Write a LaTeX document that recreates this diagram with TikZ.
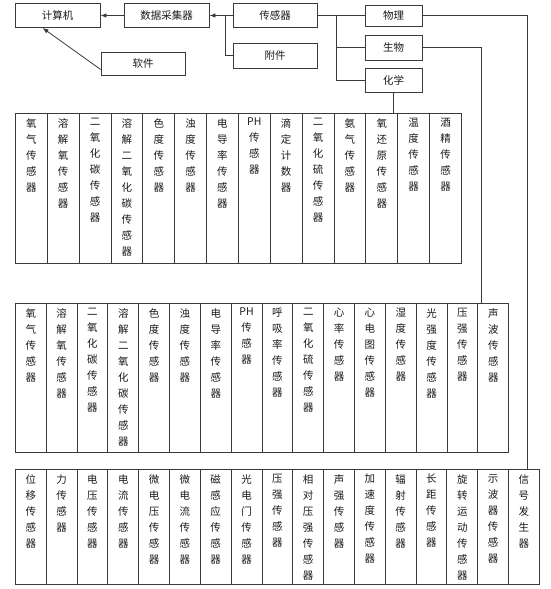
\documentclass[tikz,border=0pt]{standalone}
\usepackage{fontspec}
\setmainfont{Noto Sans CJK SC}
\usetikzlibrary{arrows.meta,calc}
\definecolor{ink}{HTML}{1A1A1A}
\definecolor{rule}{HTML}{3A3A3A}
\tikzset{
  box/.style={draw=rule,line width=0.8pt,minimum width=85pt,minimum height=24pt,inner sep=0pt,
    font=\fontsize{10.5}{12}\selectfont,text=ink},
  small box/.style={box,minimum width=57pt},
  link/.style={draw=rule,line width=0.8pt},
  feed/.style={link,-{Latex[length=6pt,width=4.5pt]}},
  cell/.style={draw=rule,line width=0.8pt,anchor=north west,inner sep=0pt},
  cell text/.style={anchor=north,align=center,inner xsep=0pt,inner ysep=5pt,text=ink,
    font=\fontsize{10.5}{16}\selectfont},
}

\begin{document}
\begin{tikzpicture}[x=1pt,y=-1pt]
  \useasboundingbox (0,0) rectangle (550,589);

  % Acquisition chain along the top.
  \node[box] (computer) at (57.5,15.5) {计算机};
  \node[box] (collector) at (166.5,15.5) {数据采集器};
  \node[box,minimum width=84pt] (sensor) at (275,15.5) {传感器};
  \node[box,minimum width=84pt,minimum height=25pt] (accessory) at (275,55.5) {附件};
  \node[box,minimum width=84pt,minimum height=23pt] (software) at (143,63.5) {软件};
  \node[small box,minimum height=21pt] (physics) at (393.5,15.5) {物理};
  \node[small box,minimum height=25pt] (biology) at (393.5,47.5) {生物};
  \node[small box] (chemistry) at (393.5,80) {化学};
  \coordinate (bus) at (336,0);

  % Chemistry sensors.
  \foreach \txt [count=\i from 0] in {{氧\\气\\传\\感\\器},{溶\\解\\氧\\传\\感\\器},
      {二\\氧\\化\\碳\\传\\感\\器},{溶\\解\\二\\氧\\化\\碳\\传\\感\\器},{色\\度\\传\\感\\器},
      {浊\\度\\传\\感\\器},{电\\导\\率\\传\\感\\器},{PH\\传\\感\\器},{滴\\定\\计\\数\\器},
      {二\\氧\\化\\硫\\传\\感\\器},{氨\\气\\传\\感\\器},{氧\\还\\原\\传\\感\\器},
      {温\\度\\传\\感\\器},{酒\\精\\传\\感\\器}} {
    \node[cell,minimum width=31.86pt,minimum height=150pt] (chem\i) at (15+\i*31.86,113) {};
    \node[cell text] at (chem\i.north) {\txt};
  }

  % Biology sensors.
  \foreach \txt [count=\i from 0] in {{氧\\气\\传\\感\\器},{溶\\解\\氧\\传\\感\\器},
      {二\\氧\\化\\碳\\传\\感\\器},{溶\\解\\二\\氧\\化\\碳\\传\\感\\器},{色\\度\\传\\感\\器},
      {浊\\度\\传\\感\\器},{电\\导\\率\\传\\感\\器},{PH\\传\\感\\器},{呼\\吸\\率\\传\\感\\器},
      {二\\氧\\化\\硫\\传\\感\\器},{心\\率\\传\\感\\器},{心\\电\\图\\传\\感\\器},
      {湿\\度\\传\\感\\器},{光\\强\\度\\传\\感\\器},{压\\强\\传\\感\\器},{声\\波\\传\\感\\器}} {
    \node[cell,minimum width=30.83pt,minimum height=149pt] (bio\i) at (15+\i*30.83,303) {};
    \node[cell text] at (bio\i.north) {\txt};
  }

  % Physics sensors.
  \foreach \txt [count=\i from 0] in {{位\\移\\传\\感\\器},{力\\传\\感\\器},{电\\压\\传\\感\\器},
      {电\\流\\传\\感\\器},{微\\电\\压\\传\\感\\器},{微\\电\\流\\传\\感\\器},
      {磁\\感\\应\\传\\感\\器},{光\\电\\门\\传\\感\\器},{压\\强\\传\\感\\器},
      {相\\对\\压\\强\\传\\感\\器},{声\\强\\传\\感\\器},{加\\速\\度\\传\\感\\器},
      {辐\\射\\传\\感\\器},{长\\距\\传\\感\\器},{旋\\转\\运\\动\\传\\感\\器},
      {示\\波\\器\\传\\感\\器},{信\\号\\发\\生\\器}} {
    \node[cell,minimum width=30.82pt,minimum height=115pt] (phys\i) at (15+\i*30.82,469) {};
    \node[cell text] at (phys\i.north) {\txt};
  }

  % Connectors.
  \draw[feed] (collector.west) -- (computer.east);
  \draw[feed] (sensor.west) -- (collector.east);
  \draw[link] (accessory.west) -| ($(collector.east)!0.67!(sensor.west)$);
  \draw[feed] ($(software.west)!0.5!(software.south west)$) -- ([xshift=-15pt]computer.south);
  \draw[link] (sensor.east) -- (physics.west);
  \draw[link] (sensor.east -| bus) |- (chemistry.west);
  \draw[link] (bus |- biology.west) -- (biology.west);
  \draw[link] (chemistry.south) -- (chemistry.south |- chem0.north);
  \draw[link] (biology.east) -| ([xshift=-28pt]bio15.north east);
  \draw[link] (physics.east) -| ([xshift=-12pt]phys16.north east);
\end{tikzpicture}
\end{document}
